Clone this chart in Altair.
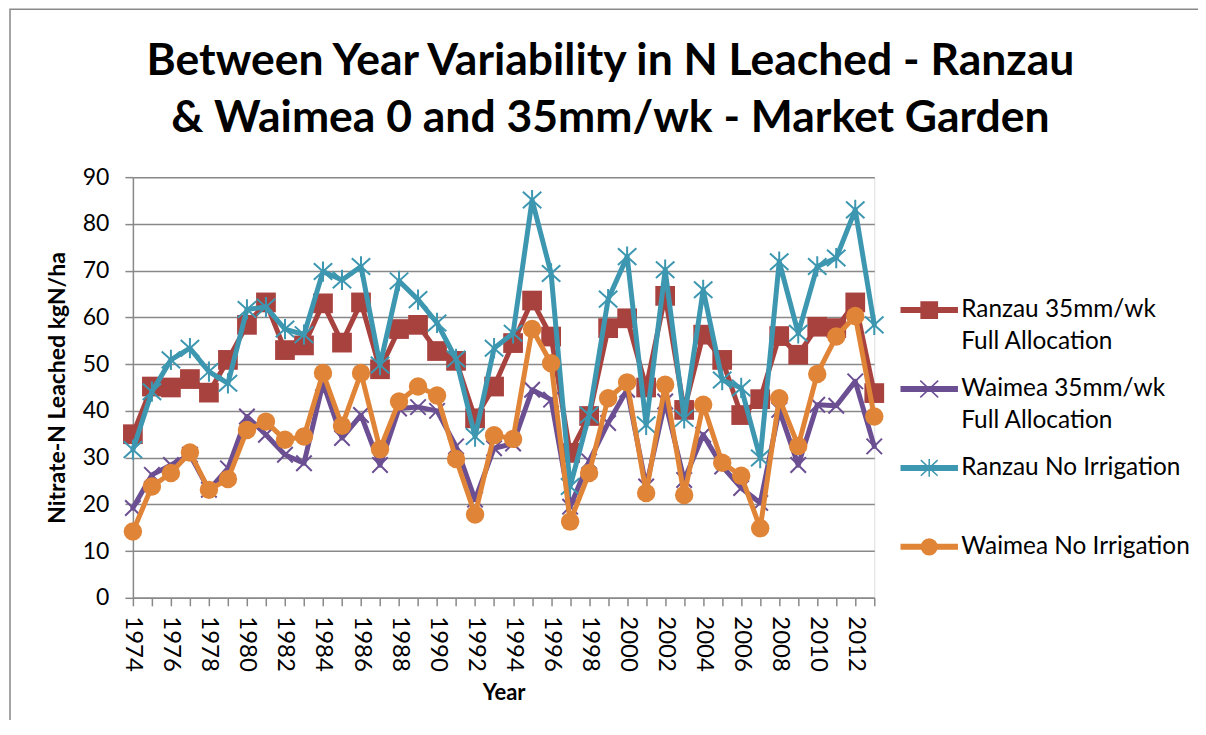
import json
import altair as alt
import pandas as pd

years = list(range(1974, 2014))

series_names = [
    "Ranzau 35mm/wk Full Allocation",
    "Waimea 35mm/wk Full Allocation",
    "Ranzau No Irrigation",
    "Waimea No Irrigation",
]
legend_line1 = ["Ranzau 35mm/wk", "Waimea 35mm/wk", "Ranzau No Irrigation", "Waimea No Irrigation"]
legend_line2 = ["Full Allocation", "Full Allocation", "", ""]

ranzau_35 = [35, 45.2, 45, 46.8, 43.9, 50.9, 58.4, 63.2, 53, 54,
             63, 54.6, 63.2, 48.9, 57.5, 58.4, 52.8, 50.7, 38.4, 45.2,
             54.5, 63.6, 55.9, 31, 38.9, 57.7, 59.8, 45, 64.6, 40.2,
             56.3, 50.9, 39.1, 42.5, 56, 52, 58, 57.7, 63.2, 43.8]
waimea_35 = [19.2, 26.3, 28.4, 30.6, 23.1, 27.7, 38.8, 34.9, 30.6, 28.8,
             45.9, 34.2, 39.1, 28.4, 40.5, 40.8, 40, 32.4, 21, 32,
             33, 44.5, 42.4, 19.5, 29.2, 37.4, 44.5, 23.8, 42, 25.2,
             34.9, 28.1, 23.5, 20.3, 40.2, 28.4, 41.3, 41.1, 46.3, 32.4]
ranzau_no = [31.7, 44.1, 50.9, 53.4, 48.4, 45.9, 61.7, 62.2, 57.5, 56.3,
             69.8, 68, 70.9, 49.8, 67.8, 63.8, 58.8, 51.1, 34.5, 53.4,
             56.6, 85.1, 69.4, 23.8, 39.1, 63.9, 73, 37, 70.2, 38.4,
             65.9, 46.6, 44.9, 29.9, 71.9, 56.6, 70.9, 72.7, 83, 58.4]
waimea_no = [14.2, 23.8, 26.7, 31.1, 23.1, 25.4, 35.9, 37.7, 33.8, 34.5,
             48.1, 36.8, 48.1, 31.8, 42, 45.2, 43.3, 29.7, 17.8, 34.8,
             34, 57.5, 50.2, 16.3, 26.7, 42.7, 46.1, 22.4, 45.6, 22,
             41.3, 28.9, 26.1, 14.9, 42.7, 32.5, 47.9, 55.9, 60.3, 38.8]

colors = ["#A8423F", "#6B4F92", "#3D97B0", "#E08437"]
y_ticks = [0, 10, 20, 30, 40, 50, 60, 70, 80, 90]

rows = []
for name, vals in zip(series_names, [ranzau_35, waimea_35, ranzau_no, waimea_no]):
    for yr, v in zip(years, vals):
        rows.append({"year": yr, "value": v, "series": name})
df = pd.DataFrame(rows)

GRAY = "#898989"
FONT = "Lato"

# plot markers
X_PATH = "M-1,-1L1,1M-1,1L1,-1"
AST_PATH = "M-1,-0.9L1,0.9M-1,0.9L1,-0.9M0,-1.1V1.1"
marker_shapes = ["square", X_PATH, AST_PATH, "circle"]
marker_sizes = [390, 240, 340, 340]
marker_filled = [True, False, False, True]

# legend symbols: line + marker
L = "M-1,-0.08H1V0.08H-1Z"
leg_paths = [
    L + "M-0.29,-0.29H0.29V0.29H-0.29Z",
    L + "M-0.32,-0.3L0.32,0.3M-0.32,0.3L0.32,-0.3",
    L + "M-0.3,-0.28L0.3,0.28M-0.3,0.28L0.3,-0.28M0,-0.32V0.32",
    L + "M0.28,0A0.28,0.28 0 1,1 -0.28,0A0.28,0.28 0 1,1 0.28,0Z",
]
BLANK_SYMBOL = "M-1,-0.32H1V0.32H-1Z"

LEG_X = 768
LEG_Y = 104
LEG_ROWPAD = 38

common_legend = dict(
    title=None,
    orient="none",
    legendX=LEG_X,
    padding=0,
    symbolSize=3136,
    symbolStrokeWidth=1.5,
    symbolOpacity=1,
    labelFont=FONT,
    labelFontSize=24.4,
    labelColor="#000000",
    labelOffset=3,
    labelLimit=400,
    rowPadding=LEG_ROWPAD,
)

legend_a = alt.Legend(
    legendY=LEG_Y,
    labelExpr=f"{json.dumps(legend_line1)}[indexof({json.dumps(series_names)}, datum.value)]",
    **common_legend,
)

line2_keys = ["0", "1", "2", "3"]
legend_b = alt.Legend(
    legendY=LEG_Y + 32,
    symbolType=BLANK_SYMBOL,
    labelExpr=f"{json.dumps(legend_line2)}[toNumber(datum.value)]",
    **{**common_legend, "symbolOpacity": 0},
)

x_enc = alt.X(
    "year:O",
    scale=alt.Scale(type="point", padding=0),
    axis=alt.Axis(
        title="Year",
        labelAngle=90,
        labelExpr="datum.value % 2 == 0 ? datum.label : ''",
        labelOverlap=False,
        labelFont=FONT,
        labelFontSize=24,
        labelColor="#000000",
        labelPadding=10,
        tickSize=8,
        tickColor=GRAY,
        tickWidth=1.5,
        domainColor=GRAY,
        domainWidth=1.5,
        grid=False,
        titleFont=FONT,
        titleFontSize=22,
        titleFontWeight="bold",
        titleColor="#000000",
        titlePadding=11,
    ),
)
y_enc = alt.Y(
    "value:Q",
    scale=alt.Scale(domain=[0, 90], nice=False),
    axis=alt.Axis(
        title="Nitrate-N Leached kgN/ha",
        values=y_ticks,
        labelFont=FONT,
        labelFontSize=23,
        labelColor="#000000",
        labelPadding=16,
        tickSize=8,
        tickColor=GRAY,
        tickWidth=1.5,
        domainColor=GRAY,
        domainWidth=1.5,
        grid=True,
        gridColor=GRAY,
        gridWidth=1.5,
        titleFont=FONT,
        titleFontSize=23,
        titleFontWeight="bold",
        titleColor="#000000",
        titlePadding=13,
    ),
)

base = alt.Chart(df).encode(x=x_enc, y=y_enc)

border = alt.Chart(alt.Data(values=[{"a": 1}])).mark_rect(
    fill=None, stroke=GRAY, strokeWidth=1.5
).encode(
    x=alt.value(-123), x2=alt.value(1300),
    y=alt.value(-168), y2=alt.value(800),
)

layers = [border]
for i, name in enumerate(series_names):
    sub = base.transform_filter(alt.datum.series == name)
    layers.append(sub.mark_line(color=colors[i], strokeWidth=5, strokeJoin="round", strokeCap="round"))
    layers.append(
        sub.mark_point(
            shape=marker_shapes[i],
            color=colors[i],
            filled=marker_filled[i],
            size=marker_sizes[i],
            opacity=1,
            strokeWidth=2,
        )
    )

# legend A: symbols (line + marker) and first label lines
legend_layer_a = alt.Chart(df).transform_filter("false").mark_point(
    filled=True, opacity=1
).encode(
    fill=alt.Fill("series:N", scale=alt.Scale(domain=series_names, range=colors), legend=legend_a),
    stroke=alt.Stroke("series:N", scale=alt.Scale(domain=series_names, range=colors), legend=legend_a),
    shape=alt.Shape("series:N", scale=alt.Scale(domain=series_names, range=leg_paths), legend=legend_a),
)

# legend B: second label lines
legend_layer_b = alt.Chart(df).transform_filter("false").mark_point(opacity=1).encode(
    strokeDash=alt.StrokeDash("series:N", scale=alt.Scale(domain=line2_keys), legend=legend_b),
)

layers += [legend_layer_a, legend_layer_b]

chart = alt.layer(*layers).properties(
    width=742,
    height=421,
    padding={"left": 125, "top": 169, "right": 324, "bottom": 122},
    autosize=alt.AutoSizeParams(type="none"),
    title=alt.Title(
        ["Between Year Variability in N Leached - Ranzau",
         "& Waimea 0 and 35mm/wk - Market Garden"],
        font=FONT,
        fontSize=44.5,
        fontWeight="bold",
        color="#000000",
        lineHeight=57,
        anchor="middle",
        frame="group",
        dx=107,
        offset=-133,
    ),
).configure_view(strokeWidth=0).configure(background="white")

chart.save("out.html", embed_options={"renderer": "svg", "actions": False})
